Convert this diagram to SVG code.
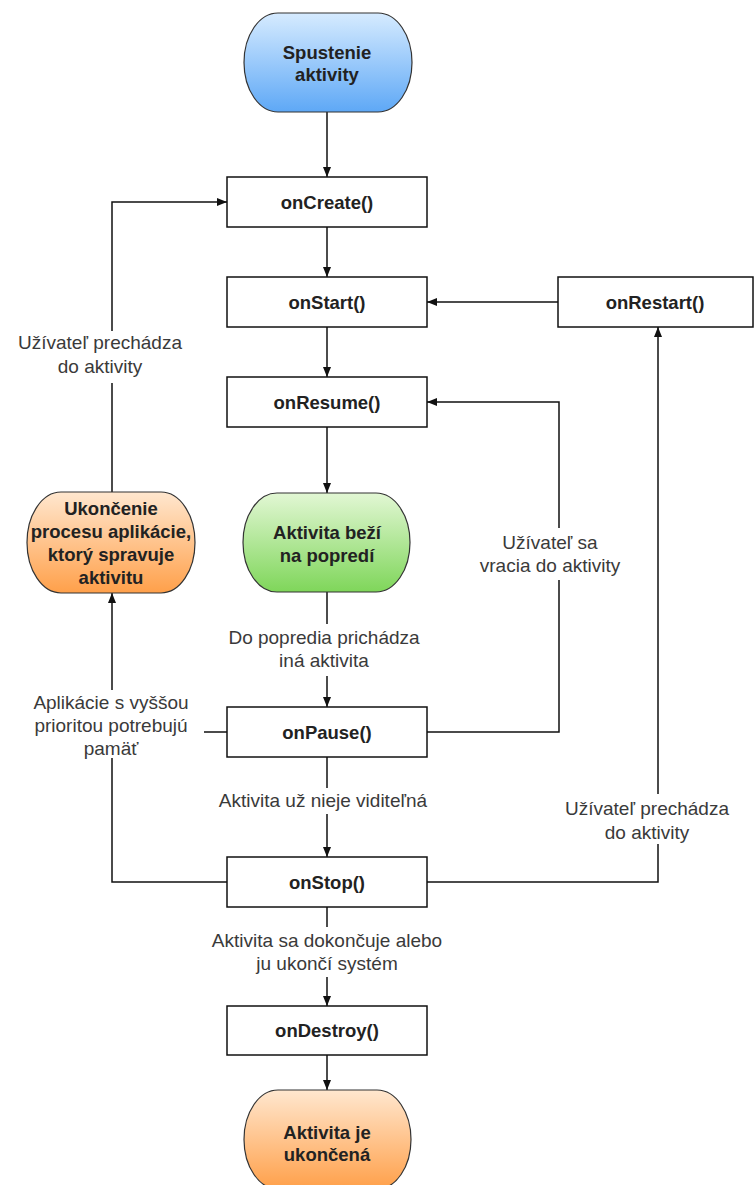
<svg xmlns="http://www.w3.org/2000/svg" width="754" height="1185" viewBox="0 0 754 1185">
<defs>
<linearGradient id="gBlue" x1="0" y1="0" x2="0" y2="1"><stop offset="0" stop-color="#d6ebff"/><stop offset="1" stop-color="#5ea8f6"/></linearGradient>
<linearGradient id="gGreen" x1="0" y1="0" x2="0" y2="1"><stop offset="0" stop-color="#e2f7d4"/><stop offset="1" stop-color="#7fd65a"/></linearGradient>
<linearGradient id="gOrange" x1="0" y1="0" x2="0" y2="1"><stop offset="0" stop-color="#ffe7cf"/><stop offset="1" stop-color="#ffa04a"/></linearGradient>
<marker id="arr" markerWidth="10" markerHeight="8" refX="10" refY="4" orient="auto" markerUnits="userSpaceOnUse"><path d="M0,0 L10,4 L0,8 z" fill="#111"/></marker>
<style>
.box{fill:#fff;stroke:#111;stroke-width:1.5}
.term{stroke:#333;stroke-width:1.2}
.nt{font-family:"Liberation Sans",Arial,sans-serif;font-size:18.5px;font-weight:bold;fill:#222;text-anchor:middle}
.lt{font-family:"Liberation Sans",Arial,sans-serif;font-size:19px;fill:#3a3a3a;text-anchor:middle}
.ln{fill:none;stroke:#111;stroke-width:1.5}
.ar{marker-end:url(#arr)}
.bg{fill:#fff}
</style>
</defs>
<rect width="754" height="1185" fill="#fff"/>
<g id="connectors">
<path class="ln ar" d="M327,112 V177"/>
<path class="ln ar" d="M327,227 V277"/>
<path class="ln ar" d="M327,327 V377"/>
<path class="ln ar" d="M327,427 V493"/>
<path class="ln ar" d="M327,592 V707"/>
<path class="ln ar" d="M327,757 V857"/>
<path class="ln ar" d="M327,907 V1006"/>
<path class="ln ar" d="M327,1055 V1090"/>
<path class="ln ar" d="M558,302 H427"/>
<path class="ln ar" d="M427,732 H559 V402 H427"/>
<path class="ln ar" d="M427,882 H658 V327"/>
<path class="ln ar" d="M227,732 H112 V593"/>
<path class="ln" d="M227,882 H112 V732"/>
<path class="ln ar" d="M112,492 V202 H227"/>
<g id="label-left-top"><rect class="bg" x="12" y="331" width="178" height="52"/><text class="lt" x="100" y="349">Užívateľ prechádza</text><text class="lt" x="100" y="373">do aktivity</text></g>
<g id="label-foreground"><rect class="bg" x="218" y="624" width="210" height="52"/><text class="lt" x="324" y="643.5">Do popredia prichádza</text><text class="lt" x="324" y="666.5">iná aktivita</text></g>
<g id="label-memory"><rect class="bg" x="26" y="690" width="178" height="68"/><text class="lt" x="111" y="708.5">Aplikácie s vyššou</text><text class="lt" x="111" y="731.5">prioritou potrebujú</text><text class="lt" x="111" y="754.5">pamäť</text></g>
<g id="label-return"><rect class="bg" x="476" y="528" width="152" height="52"/><text class="lt" x="550" y="548.5">Užívateľ sa</text><text class="lt" x="550" y="571.5">vracia do aktivity</text></g>
<g id="label-invisible"><rect class="bg" x="212" y="788" width="224" height="26"/><text class="lt" x="323" y="806.5">Aktivita už nieje viditeľná</text></g>
<g id="label-right-bottom"><rect class="bg" x="558" y="794" width="180" height="50"/><text class="lt" x="647" y="814.5">Užívateľ prechádza</text><text class="lt" x="647" y="838.5">do aktivity</text></g>
<g id="label-finish"><rect class="bg" x="204" y="927" width="246" height="50"/><text class="lt" x="327" y="946.5">Aktivita sa dokončuje alebo</text><text class="lt" x="327" y="969.5">ju ukončí systém</text></g>
</g>
<g id="start"><rect class="term" x="244" y="13" width="168" height="99" rx="34" ry="49.5" fill="url(#gBlue)"/><text class="nt" x="327" y="59">Spustenie</text><text class="nt" x="327" y="81">aktivity</text></g>
<g id="onCreate"><rect class="box" x="227" y="177" width="200" height="50"/><text class="nt" x="327" y="208.5">onCreate()</text></g>
<g id="onStart"><rect class="box" x="227" y="277" width="200" height="50"/><text class="nt" x="327" y="308.5">onStart()</text></g>
<g id="onRestart"><rect class="box" x="558" y="277" width="195" height="50"/><text class="nt" x="655" y="308.5">onRestart()</text></g>
<g id="onResume"><rect class="box" x="227" y="377" width="200" height="50"/><text class="nt" x="327" y="408.5">onResume()</text></g>
<g id="running"><rect class="term" x="243" y="493" width="167" height="99" rx="34" ry="49.5" fill="url(#gGreen)"/><text class="nt" x="327" y="538.5">Aktivita beží</text><text class="nt" x="327" y="561.5">na popredí</text></g>
<g id="killed"><rect class="term" x="27" y="492" width="168" height="101" rx="34" ry="50.5" fill="url(#gOrange)"/><text class="nt" x="111" y="515">Ukončenie</text><text class="nt" x="111" y="538">procesu aplikácie,</text><text class="nt" x="111" y="561">ktorý spravuje</text><text class="nt" x="111" y="584">aktivitu</text></g>
<g id="onPause"><rect class="box" x="227" y="707" width="200" height="50"/><text class="nt" x="327" y="738.5">onPause()</text></g>
<g id="onStop"><rect class="box" x="227" y="857" width="200" height="50"/><text class="nt" x="327" y="888.5">onStop()</text></g>
<g id="onDestroy"><rect class="box" x="227" y="1006" width="200" height="49"/><text class="nt" x="327" y="1037">onDestroy()</text></g>
<g id="end"><rect class="term" x="244" y="1090" width="167" height="99" rx="34" ry="49.5" fill="url(#gOrange)"/><text class="nt" x="327" y="1139">Aktivita je</text><text class="nt" x="327" y="1161">ukončená</text></g>
</svg>
